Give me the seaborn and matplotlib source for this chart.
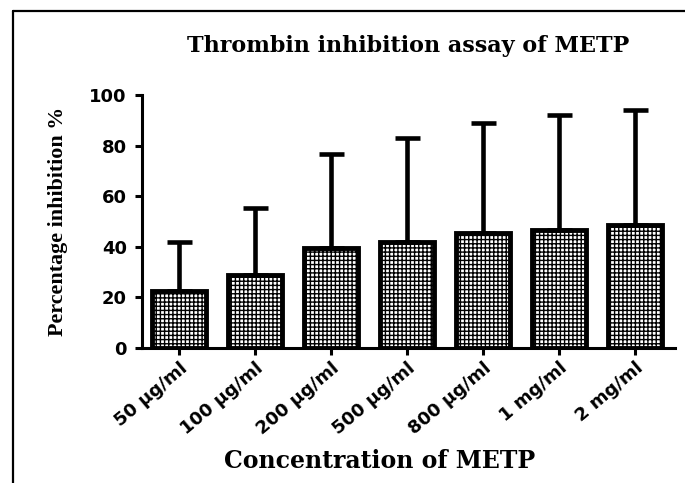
import numpy as np
import pandas as pd
import seaborn as sns
import matplotlib.pyplot as plt
from matplotlib.lines import Line2D

# values
concentrations = ["50 µg/ml", "100 µg/ml", "200 µg/ml", "500 µg/ml",
                  "800 µg/ml", "1 mg/ml", "2 mg/ml"]
inhibition_mean = [22.5, 29.0, 39.5, 42.0, 45.5, 46.5, 48.5]
inhibition_sd = [19.5, 26.5, 37.0, 41.0, 43.5, 45.5, 45.5]
y_ticks = [0, 20, 40, 60, 80, 100]

df = pd.DataFrame({"conc": concentrations, "mean": inhibition_mean, "sd": inhibition_sd})

sns.set_theme(style="ticks")
plt.rcParams["hatch.linewidth"] = 1.0
plt.rcParams["text.color"] = "black"
plt.rcParams["axes.labelcolor"] = "black"
plt.rcParams["xtick.color"] = "black"
plt.rcParams["ytick.color"] = "black"

fig = plt.figure(figsize=(6.85, 4.83), dpi=100)
ax = fig.add_axes([0.2073, 0.2795, 0.7781, 0.5238])

sns.barplot(data=df, x="conc", y="mean", color="white", width=0.71,
            edgecolor="black", linewidth=3.5, ax=ax, zorder=2)
for p in ax.patches:
    p.set_hatch("++++")

# upper error bars only
ax.errorbar(np.arange(len(df)), df["mean"], yerr=[np.zeros(len(df)), df["sd"]],
            fmt="none", ecolor="black", elinewidth=3.3, capsize=9, capthick=3.3, zorder=3)

ax.set_xlim(-0.49, 6.53)
ax.set_ylim(0, 100)
ax.set_yticks(y_ticks)
sns.despine(ax=ax)
for side in ["left", "bottom"]:
    ax.spines[side].set_linewidth(2.2)
    ax.spines[side].set_color("black")
ax.tick_params(axis="both", width=2.2, length=5, color="black")
ax.tick_params(axis="y", pad=6)
ax.tick_params(axis="x", pad=3)

sans = ["DejaVu Sans"]
serif = ["DejaVu Serif"]
ax.set_yticklabels([str(t) for t in y_ticks], fontsize=13, fontweight="bold", family=sans)
ax.set_xticklabels(concentrations, fontsize=13, fontweight="bold", family=sans,
                   rotation=40, ha="right", rotation_mode="anchor")

ax.set_xlabel("Concentration of METP", fontsize=17, fontweight="bold", family=serif, labelpad=8)
ax.xaxis.label.set_x(0.4465)
ax.set_ylabel("Percentage inhibition %", fontsize=15.8, fontweight="bold",
              family=["Liberation Serif", "DejaVu Serif"], labelpad=15)
ax.set_title("Thrombin inhibition assay of METP", fontsize=16, fontweight="bold",
             family=serif, pad=31)

# outer frame (top and left only, like the cropped source)
fig.add_artist(Line2D([13 / 685, 1], [1 - 11 / 483, 1 - 11 / 483], color="black", lw=1.6))
fig.add_artist(Line2D([13 / 685, 13 / 685], [0, 1 - 11 / 483], color="black", lw=1.6))

fig.savefig("out.png", dpi=100, facecolor="white")
